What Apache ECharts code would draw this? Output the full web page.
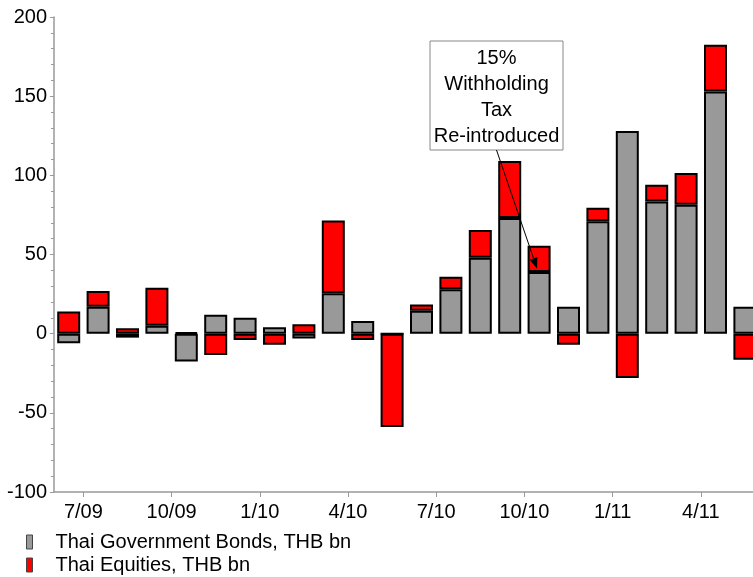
<!DOCTYPE html>
<html>
<head>
<meta charset="utf-8">
<script src="https://cdn.jsdelivr.net/npm/echarts@6/dist/echarts.min.js"></script>
<style>
html,body{margin:0;padding:0;background:#fff;}
#chart{width:753px;height:577px;}
</style>
</head>
<body>
<div id="chart"></div>
<script>
// Months (6/09 .. 5/11)
const categories = ['6/09','7/09','8/09','9/09','10/09','11/09','12/09','1/10','2/10','3/10','4/10','5/10',
                    '6/10','7/10','8/10','9/10','10/10','11/10','12/10','1/11','2/11','3/11','4/11','5/11'];
// Thai Government Bonds, THB bn
const bonds = [-6, 17, -2.5, 5, -17.5, 12, 10, 4, -3, 25.5, 8, 0,
               14.5, 28, 48, 73, 39, 17, 71, 128, 83.5, 81.5, 153, 17];
// Thai Equities, THB bn
const equities = [14, 10, 3.5, 24, 0.8, -13.5, -4, -7, 6, 46, -4, -59,
                  4, 8, 17.5, 36, 16.5, -7, 8.5, -28, 10.5, 20, 29.5, -16.5];
const yTicks = [-100, -50, 0, 50, 100, 150, 200];
const annotationText = '15%\nWithholding\nTax\nRe-introduced';
const annotationTarget = ['10/10', 41];

const FONT = '"Liberation Sans", Arial, sans-serif';
const chart = echarts.init(document.getElementById('chart'), null, {renderer: 'canvas'});

const showEvery3 = function (index) { return index % 3 === 1; };

chart.setOption({
  animation: false,
  textStyle: {fontFamily: FONT},
  grid: {left: 54, right: -6.6, top: 17, bottom: 85, containLabel: false, outerBoundsMode: 'none'},
  legend: {
    orient: 'vertical',
    left: 21,
    top: 527,
    height: 80,
    itemWidth: 6,
    itemHeight: 14,
    itemGap: 3,
    icon: 'rect',
    textStyle: {fontSize: 20, color: '#000', fontFamily: FONT, lineHeight: 20, padding: [0, 0, 0, 18]},
    itemStyle: {borderColor: '#444', borderWidth: 1},
    data: ['Thai Government Bonds, THB bn', 'Thai Equities, THB bn']
  },
  xAxis: {
    type: 'category',
    data: categories,
    boundaryGap: true,
    axisLine: {onZero: false, lineStyle: {color: '#999', width: 1.5}},
    axisTick: {show: true, interval: showEvery3, length: 5, lineStyle: {color: '#999'}},
    axisLabel: {
      interval: showEvery3,
      fontSize: 20,
      color: '#000',
      fontFamily: FONT,
      margin: 10,
      padding: [0, 29.4, 0, 0]
    },
    splitLine: {show: false}
  },
  yAxis: {
    type: 'value',
    min: yTicks[0],
    max: yTicks[yTicks.length - 1],
    interval: 50,
    axisLine: {show: true, lineStyle: {color: '#999', width: 1.5}},
    axisTick: {show: true, length: 4, lineStyle: {color: '#999'}},
    minorTick: {show: true, splitNumber: 5, length: 3, lineStyle: {color: '#999'}},
    axisLabel: {fontSize: 20, color: '#000', fontFamily: FONT, margin: 7},
    splitLine: {show: false}
  },
  series: [
    {
      name: 'Thai Government Bonds, THB bn',
      type: 'bar',
      stack: 'flows',
      data: bonds,
      barWidth: 23,
      itemStyle: {color: '#999999', borderColor: '#000', borderWidth: 2}
    },
    {
      name: 'Thai Equities, THB bn',
      type: 'bar',
      stack: 'flows',
      data: equities,
      barWidth: 23,
      itemStyle: {color: '#ff0000', borderColor: '#000', borderWidth: 2}
    }
  ]
});

// Annotation box and arrow
const box = {x: 430, y: 41, w: 133, h: 109};
const tip = chart.convertToPixel({xAxisIndex: 0, yAxisIndex: 0}, annotationTarget);
const sx = box.x + box.w / 2, sy = box.y + box.h;
const ex = tip[0] - 2, ey = tip[1];
const ang = Math.atan2(ey - sy, ex - sx);
const ah = 11, aw = 4;
const bx = ex - ah * Math.cos(ang), by = ey - ah * Math.sin(ang);
const px = -Math.sin(ang) * aw, py = Math.cos(ang) * aw;

chart.setOption({
  graphic: [
    {
      type: 'rect', z: 100,
      shape: {x: box.x, y: box.y, width: box.w, height: box.h},
      style: {fill: '#fff', stroke: '#888', lineWidth: 1}
    },
    {
      type: 'text', z: 101,
      x: box.x + box.w / 2, y: box.y + 4,
      style: {
        text: annotationText, fill: '#000', fontSize: 20, fontFamily: FONT,
        lineHeight: 26, align: 'center', verticalAlign: 'top'
      }
    },
    {
      type: 'line', z: 100,
      shape: {x1: sx, y1: sy, x2: bx, y2: by},
      style: {stroke: '#000', lineWidth: 1}
    },
    {
      type: 'polygon', z: 100,
      shape: {points: [[ex, ey], [bx + px, by + py], [bx - px, by - py]]},
      style: {fill: '#000'}
    }
  ]
});
</script>
</body>
</html>
